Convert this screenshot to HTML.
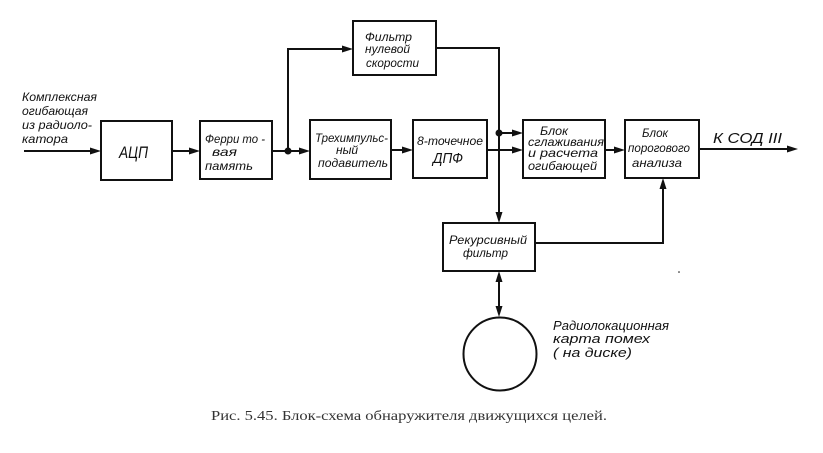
<!DOCTYPE html>
<html><head><meta charset="utf-8">
<style>
html,body{margin:0;padding:0;background:#fff;}
svg{display:block;}
.t{font-family:"Liberation Sans","DejaVu Sans",sans-serif;font-style:italic;font-size:12px;fill:#111;}
.c{font-family:"Liberation Serif","DejaVu Serif",serif;font-size:14px;fill:#333;}
</style></head>
<body>
<svg width="823" height="453" viewBox="0 0 823 453" xmlns="http://www.w3.org/2000/svg">
<g fill="none" stroke="#111" stroke-width="2">
  <rect x="101" y="121" width="71" height="59"/>
  <rect x="200" y="121" width="72" height="58"/>
  <rect x="310" y="120" width="81" height="59"/>
  <rect x="353" y="21" width="83" height="54"/>
  <rect x="413" y="120" width="74" height="58"/>
  <rect x="523" y="120" width="82" height="58"/>
  <rect x="625" y="120" width="74" height="58"/>
  <rect x="443" y="223" width="92" height="48"/>
  <circle cx="500" cy="354" r="36.5"/>
  <polyline points="24,151 92,151"/>
  <polyline points="172,151 191,151"/>
  <polyline points="272,151 301,151"/>
  <polyline points="288,151 288,49 344,49"/>
  <polyline points="391,150 404,150"/>
  <polyline points="436,48 499,48 499,214"/>
  <polyline points="499,133 514,133"/>
  <polyline points="487,150 514,150"/>
  <polyline points="605,150 616,150"/>
  <polyline points="699,149 789,149"/>
  <polyline points="535,243 663,243 663,187"/>
  <polyline points="499,280 499,308"/>
</g>
<g fill="#111">
  <circle cx="288" cy="151" r="3.5"/>
  <circle cx="499" cy="133" r="3.5"/>
  <polygon points="101,151 90,147.5 90,154.5"/>
  <polygon points="200,151 189,147.5 189,154.5"/>
  <polygon points="310,151 299,147.5 299,154.5"/>
  <polygon points="353,49 342,45.5 342,52.5"/>
  <polygon points="413,150 402,146.5 402,153.5"/>
  <polygon points="499,223 495.5,212 502.5,212"/>
  <polygon points="523,133 512,129.5 512,136.5"/>
  <polygon points="523,150 512,146.5 512,153.5"/>
  <polygon points="625,150 614,146.5 614,153.5"/>
  <polygon points="798,149 787,145.5 787,152.5"/>
  <polygon points="663,178 659.5,189 666.5,189"/>
  <polygon points="499,271 495.5,282 502.5,282"/>
  <polygon points="499,317 495.5,306 502.5,306"/>
  <circle cx="679" cy="272" r="0.8"/>
</g>
<g class="t">
  <text x="22" y="101" textLength="75" lengthAdjust="spacingAndGlyphs">Комплексная</text>
  <text x="22" y="115" textLength="66" lengthAdjust="spacingAndGlyphs">огибающая</text>
  <text x="22" y="129" textLength="70" lengthAdjust="spacingAndGlyphs">из радиоло-</text>
  <text x="22" y="143" textLength="46" lengthAdjust="spacingAndGlyphs">катора</text>

  <text x="119" y="158" style="font-size:17px" textLength="29" lengthAdjust="spacingAndGlyphs">АЦП</text>

  <text x="205" y="143" textLength="60" lengthAdjust="spacingAndGlyphs">Ферри то -</text>
  <text x="212" y="156" textLength="25" lengthAdjust="spacingAndGlyphs">вая</text>
  <text x="205" y="170" textLength="48" lengthAdjust="spacingAndGlyphs">память</text>

  <text x="315" y="142" textLength="73" lengthAdjust="spacingAndGlyphs">Трехимпульс-</text>
  <text x="336" y="154" style="font-size:12px">ный</text>
  <text x="318" y="167" textLength="70" lengthAdjust="spacingAndGlyphs">подавитель</text>

  <text x="365" y="41" textLength="47" lengthAdjust="spacingAndGlyphs">Фильтр</text>
  <text x="365" y="53" textLength="45" lengthAdjust="spacingAndGlyphs">нулевой</text>
  <text x="366" y="67" textLength="53" lengthAdjust="spacingAndGlyphs">скорости</text>

  <text x="417" y="145" textLength="66" lengthAdjust="spacingAndGlyphs">8-точечное</text>
  <text x="433" y="163" style="font-size:15px" textLength="30" lengthAdjust="spacingAndGlyphs">ДПФ</text>

  <text x="540" y="135" textLength="28" lengthAdjust="spacingAndGlyphs">Блок</text>
  <text x="528" y="146" textLength="76" lengthAdjust="spacingAndGlyphs">сглаживания</text>
  <text x="528" y="157" textLength="70" lengthAdjust="spacingAndGlyphs">и расчета</text>
  <text x="528" y="170" textLength="69" lengthAdjust="spacingAndGlyphs">огибающей</text>

  <text x="642" y="137" textLength="26" lengthAdjust="spacingAndGlyphs">Блок</text>
  <text x="628" y="152" textLength="62" lengthAdjust="spacingAndGlyphs">порогового</text>
  <text x="632" y="167" textLength="50" lengthAdjust="spacingAndGlyphs">анализа</text>

  <text x="713" y="143" style="font-size:15px" textLength="69" lengthAdjust="spacingAndGlyphs">К  СОД  III</text>

  <text x="449" y="244" textLength="78" lengthAdjust="spacingAndGlyphs">Рекурсивный</text>
  <text x="463" y="257" textLength="45" lengthAdjust="spacingAndGlyphs">фильтр</text>

  <text x="553" y="330" style="font-size:13px" textLength="116" lengthAdjust="spacingAndGlyphs">Радиолокационная</text>
  <text x="553" y="343" style="font-size:13px" textLength="97" lengthAdjust="spacingAndGlyphs">карта    помех</text>
  <text x="553" y="357" style="font-size:13px" textLength="79" lengthAdjust="spacingAndGlyphs">( на   диске)</text>
</g>
<text class="c" x="211" y="420" textLength="396" lengthAdjust="spacingAndGlyphs">Рис. 5.45. Блок-схема обнаружителя движущихся целей.</text>
</svg>
</body></html>
